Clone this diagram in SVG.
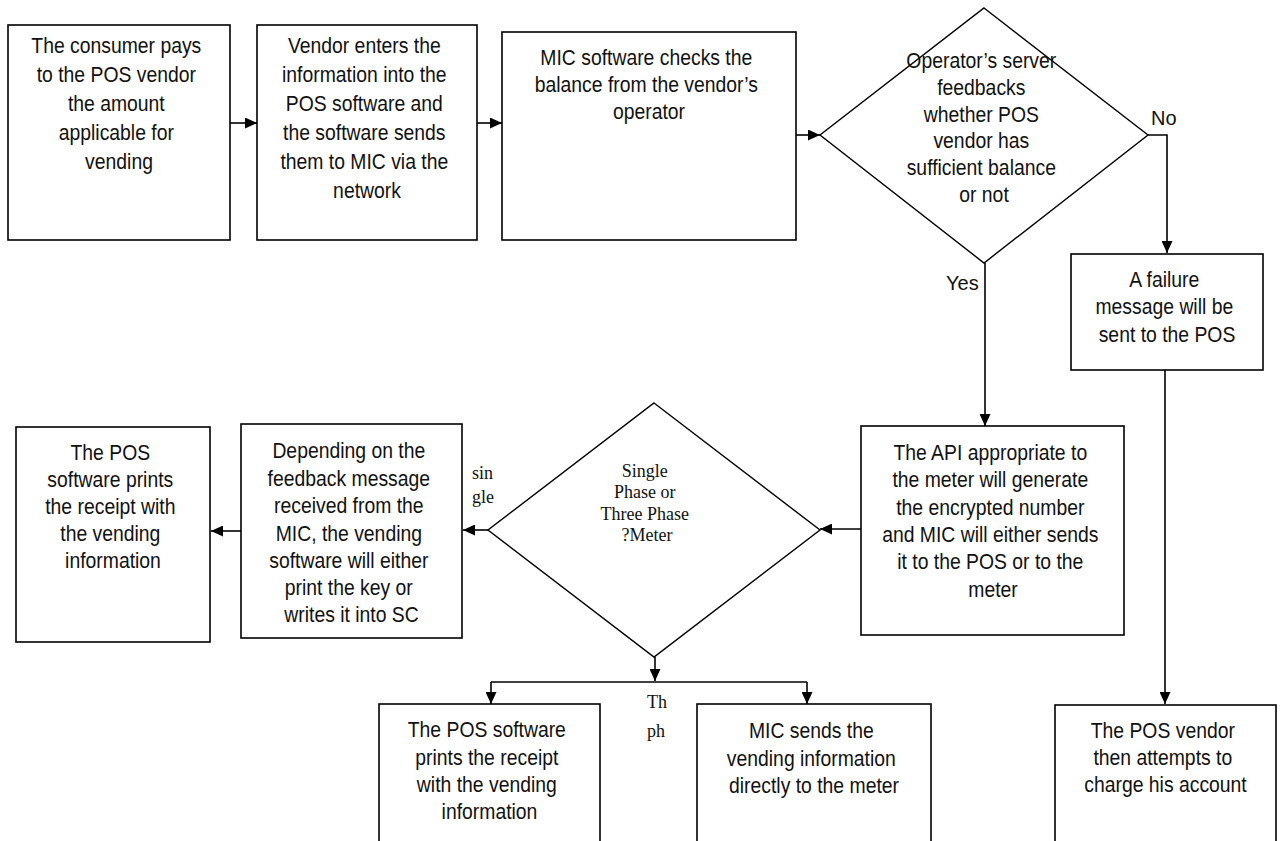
<svg xmlns="http://www.w3.org/2000/svg" width="1282" height="841" viewBox="0 0 1282 841">
  <style>
    .box { fill: #ffffff; stroke: #000000; stroke-width: 1.6; }
    .dia { fill: none; stroke: #000000; stroke-width: 1.4; }
    .wire { fill: none; stroke: #000000; stroke-width: 1.6; }
    .t { font-family: "Liberation Sans", Arial, sans-serif; font-size: 22px; fill: #111111; text-anchor: middle; }
    .s { font-family: "Liberation Serif", "Times New Roman", serif; font-size: 18px; fill: #111111; text-anchor: middle; }
    .l { font-family: "Liberation Serif", "Times New Roman", serif; font-size: 18px; fill: #111111; }
    .lab { font-family: "Liberation Sans", Arial, sans-serif; font-size: 20px; fill: #111111; }
  </style>
  <defs>
    <marker id="arr" viewBox="0 0 12 11" refX="12" refY="5.5" markerWidth="12" markerHeight="11" markerUnits="userSpaceOnUse" orient="auto">
      <path d="M0,0 L12,5.5 L0,11 Z" fill="#000000"/>
    </marker>
  </defs>
  <rect width="1282" height="841" fill="#ffffff"/>

  <!-- connectors and their labels -->
  <g id="connectors">
    <line class="wire" x1="230" y1="123" x2="257" y2="123" marker-end="url(#arr)"/>
    <line class="wire" x1="477" y1="123" x2="502" y2="123" marker-end="url(#arr)"/>
    <line class="wire" x1="796" y1="135" x2="820" y2="135" marker-end="url(#arr)"/>
    <polyline class="wire" points="1148,135 1167,135 1167,253" marker-end="url(#arr)"/>
    <line class="wire" x1="985" y1="263" x2="985" y2="426" marker-end="url(#arr)"/>
    <line class="wire" x1="1165" y1="370" x2="1165" y2="704" marker-end="url(#arr)"/>
    <line class="wire" x1="861" y1="529" x2="820" y2="529" marker-end="url(#arr)"/>
    <line class="wire" x1="488" y1="530" x2="463" y2="530" marker-end="url(#arr)"/>
    <line class="wire" x1="241" y1="531" x2="211" y2="531" marker-end="url(#arr)"/>
    <!-- fork below the phase decision -->
    <line class="wire" x1="655" y1="657" x2="655" y2="681" marker-end="url(#arr)"/>
    <line class="wire" x1="491" y1="682" x2="807" y2="682"/>
    <line class="wire" x1="491" y1="682" x2="491" y2="704" marker-end="url(#arr)"/>
    <line class="wire" x1="807" y1="682" x2="807" y2="704" marker-end="url(#arr)"/>
    <text class="lab" x="1151" y="125">No</text>
    <text class="lab" x="946" y="290">Yes</text>
    <text class="l" x="472" y="479">sin</text>
    <text class="l" x="472" y="503">gle</text>
    <text class="l" x="647" y="708">Th</text>
    <text class="l" x="647" y="737">ph</text>
  </g>

  <g id="pay">
    <rect class="box" x="8" y="25" width="222" height="215"/>
    <text class="t" transform="translate(119 0) scale(0.88 1)">
      <tspan x="0" y="53">The consumer pays</tspan>
      <tspan x="0" y="82">to the POS vendor</tspan>
      <tspan x="0" y="111">the amount</tspan>
      <tspan x="0" y="140">applicable for</tspan>
      <tspan x="0" y="169">vending</tspan>
    </text>
  </g>

  <g id="enter">
    <rect class="box" x="257" y="25" width="220" height="215"/>
    <text class="t" transform="translate(367 0) scale(0.88 1)">
      <tspan x="0" y="53">Vendor enters the</tspan>
      <tspan x="0" y="82">information into the</tspan>
      <tspan x="0" y="111">POS software and</tspan>
      <tspan x="0" y="140">the software sends</tspan>
      <tspan x="0" y="169">them to MIC via the</tspan>
      <tspan x="0" y="198">network</tspan>
    </text>
  </g>

  <g id="check">
    <rect class="box" x="502" y="32" width="294" height="208"/>
    <text class="t" transform="translate(649 0) scale(0.88 1)">
      <tspan x="0" y="65">MIC software checks the</tspan>
      <tspan x="0" y="92">balance from the vendor’s</tspan>
      <tspan x="0" y="119">operator</tspan>
    </text>
  </g>

  <g id="balance">
    <polygon class="dia" points="984,8 1148,135 984,263 820,135"/>
    <text class="t" transform="translate(984 0) scale(0.88 1)">
      <tspan x="0" y="68">Operator’s server</tspan>
      <tspan x="0" y="95">feedbacks</tspan>
      <tspan x="0" y="122">whether POS</tspan>
      <tspan x="0" y="148">vendor has</tspan>
      <tspan x="0" y="175">sufficient balance</tspan>
      <tspan x="0" y="202">or not</tspan>
    </text>
  </g>

  <g id="failure">
    <rect class="box" x="1071" y="254" width="192" height="116"/>
    <text class="t" transform="translate(1167 0) scale(0.88 1)">
      <tspan x="0" y="287">A failure</tspan>
      <tspan x="0" y="314">message will be</tspan>
      <tspan x="0" y="342">sent to the POS</tspan>
    </text>
  </g>

  <g id="api">
    <rect class="box" x="861" y="426" width="263" height="209"/>
    <text class="t" transform="translate(993 0) scale(0.88 1)">
      <tspan x="0" y="460">The API appropriate to</tspan>
      <tspan x="0" y="487">the meter will generate</tspan>
      <tspan x="0" y="515">the encrypted number</tspan>
      <tspan x="0" y="542">and MIC will either sends</tspan>
      <tspan x="0" y="569">it to the POS or to the</tspan>
      <tspan x="0" y="597">meter</tspan>
    </text>
  </g>

  <g id="phase">
    <polygon class="dia" points="654,403 820,530 654,657 488,530"/>
    <text class="s">
      <tspan x="647" y="477">Single</tspan>
      <tspan x="647" y="498">Phase or</tspan>
      <tspan x="647" y="520">Three Phase</tspan>
      <tspan x="647" y="541">?Meter</tspan>
    </text>
  </g>

  <g id="feedback">
    <rect class="box" x="241" y="424" width="221" height="214"/>
    <text class="t" transform="translate(351.5 0) scale(0.88 1)">
      <tspan x="0" y="458">Depending on the</tspan>
      <tspan x="0" y="486">feedback message</tspan>
      <tspan x="0" y="513">received from the</tspan>
      <tspan x="0" y="541">MIC, the vending</tspan>
      <tspan x="0" y="568">software will either</tspan>
      <tspan x="0" y="595">print the key or</tspan>
      <tspan x="0" y="622">writes it into SC</tspan>
    </text>
  </g>

  <g id="receipt-single">
    <rect class="box" x="16" y="427" width="194" height="215"/>
    <text class="t" transform="translate(113 0) scale(0.88 1)">
      <tspan x="0" y="460">The POS</tspan>
      <tspan x="0" y="487">software prints</tspan>
      <tspan x="0" y="514">the receipt with</tspan>
      <tspan x="0" y="541">the vending</tspan>
      <tspan x="0" y="568">information</tspan>
    </text>
  </g>

  <g id="receipt-three">
    <rect class="box" x="379" y="704" width="221" height="150"/>
    <text class="t" transform="translate(489.5 0) scale(0.88 1)">
      <tspan x="0" y="737">The POS software</tspan>
      <tspan x="0" y="765">prints the receipt</tspan>
      <tspan x="0" y="792">with the vending</tspan>
      <tspan x="0" y="819">information</tspan>
    </text>
  </g>

  <g id="direct">
    <rect class="box" x="697" y="704" width="234" height="150"/>
    <text class="t" transform="translate(814 0) scale(0.88 1)">
      <tspan x="0" y="738">MIC sends the</tspan>
      <tspan x="0" y="766">vending information</tspan>
      <tspan x="0" y="793">directly to the meter</tspan>
    </text>
  </g>

  <g id="charge">
    <rect class="box" x="1055" y="705" width="221" height="150"/>
    <text class="t" transform="translate(1165.5 0) scale(0.88 1)">
      <tspan x="0" y="738">The POS vendor</tspan>
      <tspan x="0" y="765">then attempts to</tspan>
      <tspan x="0" y="792">charge his account</tspan>
    </text>
  </g>
</svg>
